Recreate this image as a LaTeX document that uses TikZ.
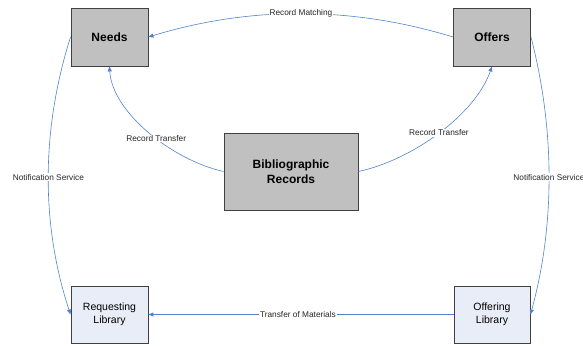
\documentclass[tikz,border=0pt]{standalone}
\usepackage{fontspec}
\setmainfont{Liberation Sans}
\usetikzlibrary{arrows.meta}
\definecolor{lineblue}{HTML}{4F84CC}
\definecolor{boxgray}{HTML}{C0C0C0}
\definecolor{boxedge}{HTML}{404040}
\definecolor{boxlight}{HTML}{E9EDF7}
\begin{document}
\begin{tikzpicture}[x=1pt,y=-1pt,
  graybox/.style={draw=boxedge, line width=0.9pt, fill=boxgray, align=center, inner sep=0pt, font=\fontsize{12}{15}\selectfont\bfseries},
  lightbox/.style={draw=boxedge, line width=0.9pt, fill=boxlight, align=center, inner sep=0pt, font=\fontsize{10.5}{13.5}\selectfont},
  conn/.style={draw=lineblue, line width=0.6pt, -{Triangle[length=5pt,width=4pt]}},
  lbl/.style={fill=white, inner sep=0.8pt, text=black!85, font=\fontsize{8.3}{10}\selectfont}]
\useasboundingbox (0,0) rectangle (583,345);
\node[graybox, minimum width=77pt, minimum height=58pt] (needs) at (109.5,37) {Needs};
\node[graybox, minimum width=77pt, minimum height=58pt] (offers) at (492,37) {Offers};
\node[graybox, minimum width=134pt, minimum height=77pt] (bib) at (291,171.5) {Bibliographic\\Records};
\node[lightbox, minimum width=77pt, minimum height=57pt] (req) at (109.5,314.5) {Requesting\\Library};
\node[lightbox, minimum width=76pt, minimum height=57pt] (off) at (492,314.5) {Offering\\Library};

\draw[conn] (offers.west) .. controls (352,6) and (250,6) .. node[lbl, pos=0.5] {Record Matching} (needs.east);
\draw[conn] (bib.west) .. controls (172,160) and (112,112) .. node[lbl, pos=0.44] {Record Transfer} (needs.south);
\draw[conn] (bib.east) .. controls (412,160) and (475,115) .. node[lbl, pos=0.5] {Record Transfer} (offers.south);
\draw[conn] (needs.west) .. controls (41,130) and (41,225) .. node[lbl, pos=0.5] {Notification Service} (req.west);
\draw[conn] (offers.east) .. controls (555,130) and (555,225) .. node[lbl, pos=0.5] {Notification Service} (off.east);
\draw[conn] (off.west) -- node[lbl, pos=0.51] {Transfer of Materials} (req.east);
\end{tikzpicture}
\end{document}
